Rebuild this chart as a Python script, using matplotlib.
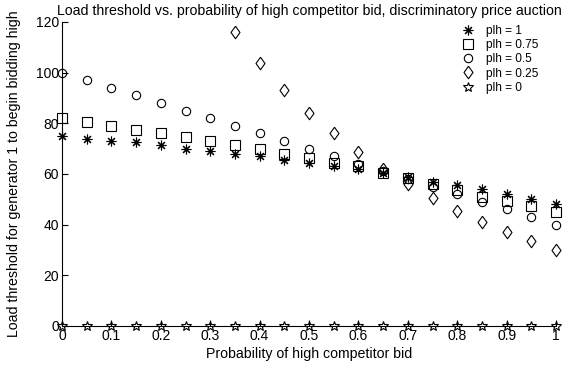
import numpy as np
import matplotlib.pyplot as plt

plt.rcParams['font.family'] = ['Liberation Sans', 'DejaVu Sans']

p_high = [0, 0.05, 0.1, 0.15, 0.2, 0.25, 0.3, 0.35, 0.4, 0.45, 0.5,
          0.55, 0.6, 0.65, 0.7, 0.75, 0.8, 0.85, 0.9, 0.95, 1]

plh_1 = [75, 74, 73, 72.5, 71.5, 70, 69, 68, 67, 65.5, 64.5,
         63, 62, 60.5, 59, 57, 55.5, 54, 52, 50, 48]
plh_075 = [82, 80.5, 79, 77.5, 76, 74.5, 73, 71.5, 70, 68, 66.5,
           64.5, 63, 60.5, 58.5, 56, 53.5, 51, 49.5, 47.5, 45]
plh_05 = [100, 97, 94, 91, 88, 85, 82, 79, 76, 73, 70,
          67, 64, 61, 58, 55, 52, 49, 46, 43, 40]
plh_025 = [np.nan] * 7 + [116, 104, 93, 84, 76, 68.5, 62, 56, 50.5, 45.5, 41, 37, 33.5, 30]
plh_0 = [0] * 21

# matlab-style diamond (fatter than mpl 'd')
diamond = [(0, 1), (0.72, 0), (0, -1), (-0.72, 0), (0, 1)]

fig = plt.figure(figsize=(5.66, 3.70), dpi=100)
ax = fig.add_axes([0.1095, 0.119, 0.873, 0.8216])

kw = dict(linestyle='none', color='k', markerfacecolor='none', clip_on=False, zorder=3)
ax.plot(p_high, plh_1, marker=(8, 2, 0), markersize=7, markeredgewidth=0.8, label='plh = 1', **kw)
ax.plot(p_high, plh_075, marker='s', markersize=6.5, markeredgewidth=0.8, label='plh = 0.75', **kw)
ax.plot(p_high, plh_05, marker='o', markersize=6, markeredgewidth=0.8, label='plh = 0.5', **kw)
ax.plot(p_high, plh_025, marker=diamond, markersize=9, markeredgewidth=0.8, label='plh = 0.25', **kw)
ax.plot(p_high, plh_0, marker='*', markersize=7.5, markeredgewidth=0.8, label='plh = 0', **kw)

ax.set_xlim(0, 1)
ax.set_ylim(0, 120)
ax.set_xticks(np.arange(0, 1.01, 0.1))
ax.set_xticklabels(['0', '0.1', '0.2', '0.3', '0.4', '0.5', '0.6', '0.7', '0.8', '0.9', '1'])
ax.set_yticks(range(0, 121, 20))
ax.tick_params(direction='in', length=4, labelsize=10, width=0.8, pad=2)
for s in ['top', 'right']:
    ax.spines[s].set_visible(False)
for s in ['left', 'bottom']:
    ax.spines[s].set_linewidth(0.8)

ax.set_xlabel('Probability of high competitor bid', fontsize=10.2, labelpad=3)
ax.set_ylabel('Load threshold for generator 1 to begin bidding high', fontsize=10.2, labelpad=11)
ax.set_title('Load threshold vs. probability of high competitor bid, discriminatory price auction',
             fontsize=10.2, pad=5)

ax.legend(loc='upper right', frameon=False, fontsize=8.6, handlelength=1.2, handletextpad=0.9,
          labelspacing=0.18, bbox_to_anchor=(0.985, 1.025))

fig.savefig('out.png', dpi=100)
